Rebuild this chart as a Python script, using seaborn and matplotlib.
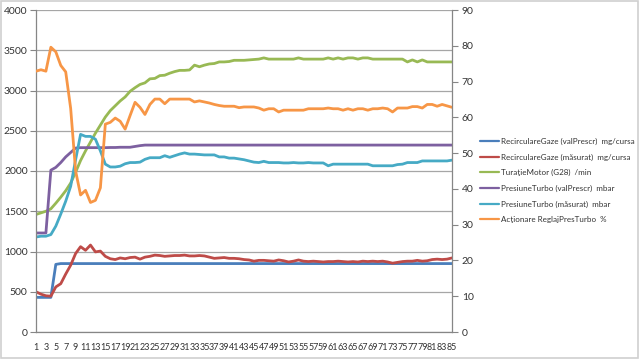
import numpy as np
import pandas as pd
import matplotlib
matplotlib.use("Agg")
import matplotlib.pyplot as plt
from matplotlib.lines import Line2D
from matplotlib.patches import Rectangle
import seaborn as sns

sns.set_style("white")
plt.rcParams['font.family'] = ['Lato', 'DejaVu Sans']

steps = list(range(1, 86))

rec_prescr = [430, 430, 430, 430, 840] + [850] * 80

rec_masurat = [500, 470, 450, 445, 560, 600, 720, 830, 975, 1060,
               1015, 1080, 995, 1005, 940, 910, 900, 920, 910, 925,
               930, 905, 930, 940, 955, 950, 940, 945, 950, 950,
               955, 945, 945, 950, 945, 930, 915, 920, 925, 915,
               915, 910, 900, 895, 880, 890, 890, 885, 880, 895,
               885, 870, 880, 895, 880, 875, 880, 875, 870, 875,
               875, 880, 875, 870, 875, 870, 880, 875, 880, 875,
               880, 870, 855, 865, 875, 880, 880, 890, 880, 885,
               900, 905, 900, 905, 920]

turatie = [1460, 1480, 1500, 1530, 1600, 1675, 1755, 1850, 1985, 2130,
           2250, 2360, 2470, 2570, 2670, 2750, 2810, 2870, 2920, 2990,
           3035, 3075, 3095, 3145, 3150, 3185, 3190, 3215, 3235, 3250,
           3250, 3255, 3315, 3295, 3315, 3330, 3335, 3355, 3355, 3360,
           3375, 3375, 3375, 3380, 3385, 3390, 3405, 3390, 3390, 3390,
           3390, 3390, 3390, 3405, 3390, 3390, 3390, 3390, 3390, 3405,
           3390, 3405, 3390, 3405, 3405, 3390, 3405, 3405, 3390, 3390,
           3390, 3390, 3390, 3390, 3390, 3355, 3380, 3355, 3380, 3355,
           3355, 3355, 3355, 3355, 3355]

pres_prescr = [1230, 1230, 1230, 2010, 2045, 2105, 2175, 2230, 2285, 2290,
               2290, 2290, 2290, 2290, 2290, 2292, 2292, 2295, 2295, 2295,
               2305, 2315] + [2322] * 63

pres_masurat = [1180, 1190, 1190, 1210, 1315, 1465, 1625, 1810, 2140, 2455,
                2430, 2430, 2395, 2250, 2085, 2050, 2050, 2060, 2090, 2105,
                2105, 2110, 2145, 2165, 2165, 2165, 2190, 2170, 2190, 2210,
                2225, 2210, 2210, 2205, 2200, 2200, 2200, 2175, 2175, 2160,
                2160, 2150, 2140, 2125, 2110, 2105, 2120, 2105, 2105, 2105,
                2100, 2100, 2105, 2100, 2100, 2105, 2100, 2100, 2100, 2065,
                2085, 2085, 2085, 2085, 2085, 2085, 2085, 2085, 2065, 2065,
                2065, 2065, 2065, 2080, 2085, 2105, 2105, 2105, 2125, 2125,
                2125, 2125, 2125, 2125, 2135]

actionare = [72.9, 73.3, 72.9, 79.6, 78.3, 74.5, 72.7, 62.5, 45.0, 38.3,
             39.6, 36.2, 36.8, 40.3, 58.1, 58.6, 59.8, 58.9, 56.7, 60.5,
             64.2, 62.8, 60.8, 63.6, 65.1, 65.1, 63.8, 65.1, 65.1, 65.1,
             65.1, 65.1, 64.3, 64.6, 64.3, 64.0, 63.6, 63.3, 63.1, 63.1,
             63.1, 62.7, 62.9, 62.9, 62.9, 62.6, 62.0, 62.4, 62.4, 61.5,
             62.0, 62.0, 62.0, 62.0, 62.0, 62.4, 62.4, 62.4, 62.4, 62.6,
             62.4, 62.4, 62.0, 62.4, 62.0, 62.4, 62.4, 62.0, 62.4, 62.4,
             62.6, 62.4, 61.5, 62.6, 62.6, 62.6, 63.0, 63.0, 62.6, 63.6,
             63.6, 63.1, 63.6, 63.2, 62.8]

labels = ["RecirculareGaze (valPrescr)  mg/cursa",
          "RecirculareGaze (măsurat)  mg/cursa",
          "TuraţieMotor (G28)  /min",
          "PresiuneTurbo (valPrescr)  mbar",
          "PresiuneTurbo (măsurat)  mbar",
          "Acţionare ReglajPresTurbo  %"]
colors = ["#4A7EBB", "#BE4B48", "#98B954", "#7D60A0", "#46AAC5", "#F79646"]

left_series = [rec_prescr, rec_masurat, turatie, pres_prescr, pres_masurat]

fig = plt.figure(figsize=(6.4, 3.61), dpi=100)
ax = fig.add_axes([36 / 640, 1 - 332 / 361, (452 - 36) / 640, (332 - 10) / 361])
ax2 = ax.twinx()

gray = "#868686"
lw = 2.0

for ser, col in zip(left_series, colors[:5]):
    df = pd.DataFrame({"step": steps, "val": ser})
    sns.lineplot(data=df, x="step", y="val", ax=ax, color=col, lw=lw, legend=False)

df_a = pd.DataFrame({"step": steps, "val": actionare})
sns.lineplot(data=df_a, x="step", y="val", ax=ax2, color=colors[5], lw=lw, legend=False)

ax.set_xlim(1, 85)
ax.set_ylim(0, 4000)
ax2.set_ylim(0, 90)
ax.set_yticks(np.arange(0, 4001, 500))
ax2.set_yticks(np.arange(0, 91, 10))
ax.set_xticks(steps)
ax.set_xticklabels([str(s) if s % 2 == 1 else "" for s in steps])
ax.set_xlabel("")
ax.set_ylabel("")
ax2.set_ylabel("")

ax.grid(axis="y", color="#A6A6A6", lw=0.9)
ax.set_axisbelow(True)

for a in (ax, ax2):
    for s in a.spines.values():
        s.set_visible(False)
ax.spines["left"].set_visible(True)
ax.spines["bottom"].set_visible(True)
ax2.spines["right"].set_visible(True)
for s in (ax.spines["left"], ax.spines["bottom"], ax2.spines["right"]):
    s.set_color(gray)
    s.set_linewidth(0.9)

ax.tick_params(axis="y", direction="out", length=4, width=0.8, color=gray,
               labelsize=7.5, labelcolor="#333333", pad=2)
ax.tick_params(axis="x", direction="out", length=3, width=0.7, color=gray,
               labelsize=6.5, labelcolor="#333333", pad=5)
ax2.tick_params(axis="y", direction="out", length=4, width=0.8, color=gray,
                labelsize=7.5, labelcolor="#333333", pad=3)

handles = [Line2D([0], [0], color=c, lw=1.6) for c in colors]
fig.legend(handles, labels, loc="upper left",
           bbox_to_anchor=(480 / 640, 1 - 138 / 361),
           frameon=False, fontsize=5.8, handlelength=2.4, handletextpad=0.2,
           labelspacing=1.05, borderaxespad=0, borderpad=0,
           labelcolor="#333333")

fig.patches.append(Rectangle((1 / 640, 1 - 358 / 361), 637 / 640, 357 / 361,
                             transform=fig.transFigure, fill=False,
                             edgecolor="#D0D0D0", lw=1.2))

fig.savefig("out.png", dpi=100)
